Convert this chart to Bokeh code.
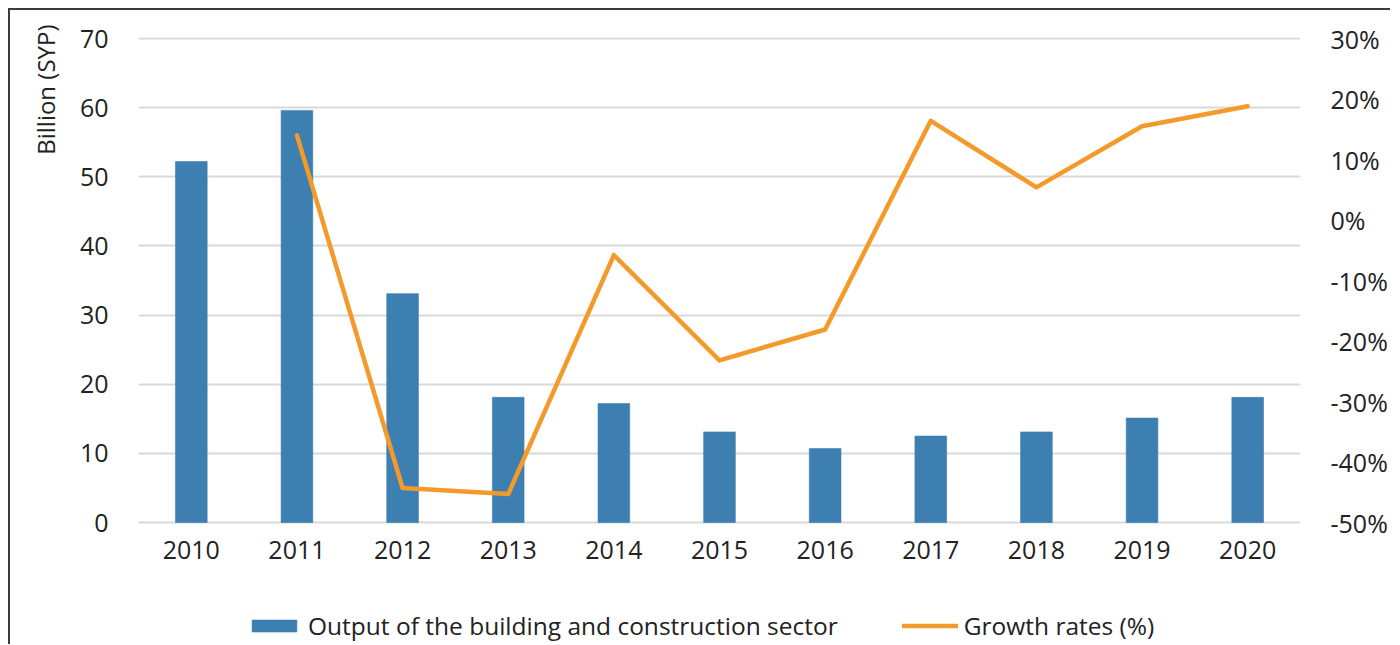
from bokeh.plotting import figure
from bokeh.models import (LinearAxis, Range1d, FactorRange, FixedTicker, PrintfTickFormatter,
                          Legend, LegendItem, Title)
from bokeh.embed import file_html
from bokeh.resources import INLINE

years = ["2010", "2011", "2012", "2013", "2014", "2015", "2016", "2017", "2018", "2019", "2020"]
output_bn = [52.2, 59.6, 33.1, 18.1, 17.2, 13.1, 10.7, 12.5, 13.1, 15.1, 18.1]
growth_years = ["2011", "2012", "2013", "2014", "2015", "2016", "2017", "2018", "2019", "2020"]
growth_pct = [14.0, -44.3, -45.3, -5.8, -23.2, -18.1, 16.4, 5.4, 15.5, 18.8]
left_ticks = [0, 10, 20, 30, 40, 50, 60, 70]
right_ticks = [-50, -40, -30, -20, -10, 0, 10, 20, 30]

FONT = "Open Sans"
TXT = "#222222"
BAR = "#3e7fb1"
ORANGE = "#f39a2b"

# layout: value axis spans 484 px between 0 and 70 (left) / -50% and 30% (right);
# the frame continues below zero to hold the category labels and the legend.
AXIS_PX = 484
FRAME_H = 607
k_l = AXIS_PX / (left_ticks[-1] - left_ticks[0])
k_r = AXIS_PX / (right_ticks[-1] - right_ticks[0])
lmax = left_ticks[-1] + 1 / k_l
lmin = lmax - FRAME_H / k_l
rmax = right_ticks[-1] + 1 / k_r
rmin = rmax - FRAME_H / k_r

p = figure(x_range=FactorRange(*years), y_range=Range1d(lmin, lmax),
           frame_width=1162, frame_height=FRAME_H,
           min_border_left=128, min_border_right=82, min_border_top=27, min_border_bottom=0,
           output_backend="svg", toolbar_location=None)
p.styles = {"border-left": "2px solid #3c3c3c", "border-top": "2px solid #3c3c3c",
            "margin-left": "8px", "margin-top": "8px"}
p.outline_line_color = None
p.background_fill_color = "white"
p.border_fill_color = "white"

p.extra_y_ranges = {"growth": Range1d(rmin, rmax)}

bars = p.vbar(x=years, top=output_bn, width=0.3, fill_color=BAR, line_color=BAR, line_alpha=0.6)
line = p.line(x=growth_years, y=growth_pct, y_range_name="growth", line_color=ORANGE,
              line_width=4.5, line_join="round", line_cap="round")

# axes
p.xaxis.fixed_location = 0
p.xaxis.axis_line_color = None
p.xaxis.major_tick_line_color = None
p.xaxis.minor_tick_line_color = None
p.xaxis.major_label_text_font = FONT
p.xaxis.major_label_text_font_size = "25px"
p.xaxis.major_label_text_color = TXT
p.xaxis.major_label_standoff = 12

p.yaxis.ticker = FixedTicker(ticks=left_ticks)
p.yaxis.axis_line_color = None
p.yaxis.major_tick_line_color = None
p.yaxis.minor_tick_line_color = None
p.yaxis.major_label_text_font = FONT
p.yaxis.major_label_text_font_size = "25px"
p.yaxis.major_label_text_color = TXT
p.yaxis.major_label_standoff = 24

ra = LinearAxis(y_range_name="growth", ticker=FixedTicker(ticks=right_ticks),
                formatter=PrintfTickFormatter(format="%d%%"))
ra.axis_line_color = None
ra.major_tick_line_color = None
ra.minor_tick_line_color = None
ra.major_label_text_font = FONT
ra.major_label_text_font_size = "25px"
ra.major_label_text_color = TXT
ra.major_label_standoff = 24
p.add_layout(ra, "right")

p.xgrid.grid_line_color = None
p.ygrid.grid_line_color = "#d9d9d9"
p.ygrid.grid_line_width = 2
p.ygrid.ticker = FixedTicker(ticks=left_ticks)

ytitle = Title(text="Billion (SYP)", align="right", offset=-13, standoff=30,
               text_font=FONT, text_font_size="24px", text_font_style="normal", text_color=TXT)
p.add_layout(ytitle, "left")

legend = Legend(items=[LegendItem(label="Output of the building and construction sector", renderers=[bars]),
                       LegendItem(label="Growth rates (%)", renderers=[line])],
                orientation="horizontal", location=(108, 2),
                glyph_width=56, glyph_height=15, label_standoff=6, spacing=64,
                label_text_font=FONT, label_text_font_size="24.5px", label_text_color=TXT,
                border_line_color=None, background_fill_alpha=0, padding=2, margin=0)
p.add_layout(legend)

open("out.html", "w").write(file_html(p, INLINE))
